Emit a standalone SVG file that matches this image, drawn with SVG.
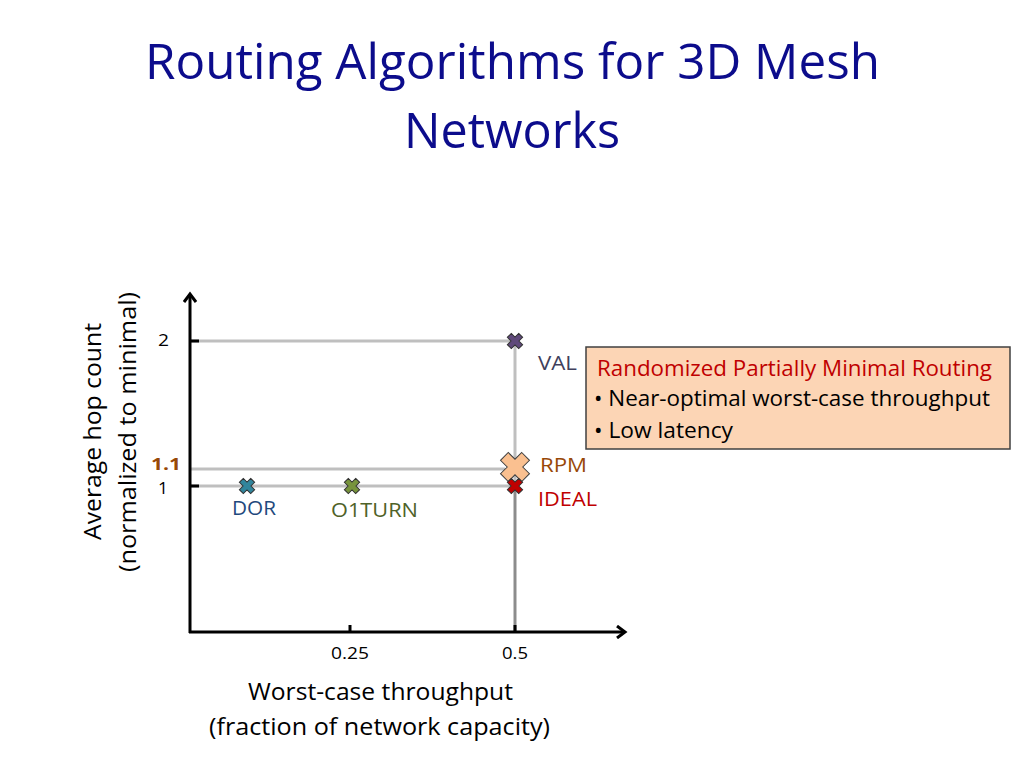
<svg xmlns="http://www.w3.org/2000/svg" width="1024" height="768" viewBox="0 0 1024 768">
<defs>
<style>
text{font-family:"Open Sans","Liberation Sans",sans-serif;font-variant-ligatures:none}
.title{font-size:49px;fill:#0C0C8C}
.lab{font-size:23px;fill:#000}
.tick{font-size:17px;fill:#000}
.grid{stroke:#BFBFBF;stroke-width:3;fill:none}
.axis{stroke:#000;stroke-width:3;fill:none}
.box{font-size:21px}
.nl{font-size:20px}
</style>
<path id="xs" d="M-2.8,-8 L2.8,-8 L2.8,-2.8 L8,-2.8 L8,2.8 L2.8,2.8 L2.8,8 L-2.8,8 L-2.8,2.8 L-8,2.8 L-8,-2.8 L-2.8,-2.8 Z" transform="rotate(45)"/>
<path id="xl" d="M-5.5,-15 L5.5,-15 L5.5,-5.5 L15,-5.5 L15,5.5 L5.5,5.5 L5.5,15 L-5.5,15 L-5.5,5.5 L-15,5.5 L-15,-5.5 L-5.5,-5.5 Z" transform="rotate(45)"/>
<marker id="arr" markerWidth="14" markerHeight="14" refX="10" refY="7" orient="auto" markerUnits="userSpaceOnUse">
<path d="M2,1 L10,7 L2,13" fill="none" stroke="#000" stroke-width="3"/>
</marker>
</defs>
<rect width="1024" height="768" fill="#fff"/>
<g id="title">
<text class="title" x="145" y="79" textLength="735" lengthAdjust="spacingAndGlyphs">Routing Algorithms for 3D Mesh</text>
<text class="title" x="404" y="148" textLength="216" lengthAdjust="spacingAndGlyphs">Networks</text>
</g>
<g id="connectors">
<line class="grid" x1="190" y1="341" x2="515" y2="341"/>
<line class="grid" x1="190" y1="469" x2="505" y2="469"/>
<line class="grid" x1="190" y1="486" x2="515" y2="486"/>
<line class="grid" x1="515" y1="341" x2="515" y2="486"/>
<line x1="515" y1="486" x2="515" y2="632" stroke="#8C8C8C" stroke-width="3"/>
<line class="axis" x1="190" y1="633" x2="190" y2="294" marker-end="url(#arr)"/>
<line class="axis" x1="189" y1="632" x2="625" y2="632" marker-end="url(#arr)"/>
<line class="axis" x1="190" y1="341" x2="199" y2="341"/>
<line class="axis" x1="190" y1="486" x2="199" y2="486"/>
<line class="axis" x1="350" y1="632" x2="350" y2="625"/>
<line class="axis" x1="515" y1="632" x2="515" y2="625"/>
</g>
<g id="axis-labels">
<text class="tick" x="158" y="346" textLength="11" lengthAdjust="spacingAndGlyphs">2</text>
<text class="tick" x="151" y="470" textLength="30" lengthAdjust="spacingAndGlyphs" style="font-weight:bold;fill:#984807;font-size:16px">1.1</text>
<text class="tick" x="158" y="494" textLength="10" lengthAdjust="spacingAndGlyphs" style="font-size:16px">1</text>
<text class="tick" x="331" y="659" textLength="38" lengthAdjust="spacingAndGlyphs">0.25</text>
<text class="tick" x="502" y="659" textLength="26" lengthAdjust="spacingAndGlyphs">0.5</text>
<text class="lab" x="248" y="700" textLength="265" lengthAdjust="spacingAndGlyphs">Worst-case throughput</text>
<text class="lab" x="209" y="735" textLength="341" lengthAdjust="spacingAndGlyphs">(fraction of network capacity)</text>
<text class="lab" transform="translate(101,540) rotate(-90)" textLength="217" lengthAdjust="spacingAndGlyphs">Average hop count</text>
<text class="lab" transform="translate(136,572) rotate(-90)" textLength="280" lengthAdjust="spacingAndGlyphs">(normalized to minimal)</text>
</g>
<g id="node-val">
<use href="#xs" x="515" y="341" fill="#5F497A" stroke="#333" stroke-width="1"/>
<text class="nl" x="538" y="370" textLength="39" lengthAdjust="spacingAndGlyphs" fill="#403F5C">VAL</text>
</g>
<g id="node-rpm">
<use href="#xl" x="515" y="467" fill="#FAC090" stroke="#404040" stroke-width="1"/>
<text class="nl" x="540" y="472" textLength="47" lengthAdjust="spacingAndGlyphs" fill="#984807">RPM</text>
</g>
<g id="node-ideal">
<use href="#xs" x="515" y="486" fill="#C00000" stroke="#333" stroke-width="1"/>
<text class="nl" x="538" y="506" textLength="59" lengthAdjust="spacingAndGlyphs" fill="#C00000">IDEAL</text>
</g>
<g id="node-dor">
<use href="#xs" x="247" y="486" fill="#31859C" stroke="#333" stroke-width="1"/>
<text class="nl" x="232" y="515" textLength="44" lengthAdjust="spacingAndGlyphs" fill="#1F497D">DOR</text>
</g>
<g id="node-o1turn">
<use href="#xs" x="352" y="486" fill="#77933C" stroke="#333" stroke-width="1"/>
<text class="nl" x="331" y="517" textLength="87" lengthAdjust="spacingAndGlyphs" fill="#4F6228">O1TURN</text>
</g>
<g id="node-callout">
<rect x="586" y="347" width="424" height="102" fill="#FCD5B5" stroke="#404040" stroke-width="1.5"/>
<text class="box" x="597" y="376" textLength="395" lengthAdjust="spacingAndGlyphs" fill="#C00000">Randomized Partially Minimal Routing</text>
<text class="box" x="594" y="406" textLength="396" lengthAdjust="spacingAndGlyphs" fill="#000">• Near-optimal worst-case throughput</text>
<text class="box" x="594" y="438" textLength="139" lengthAdjust="spacingAndGlyphs" fill="#000">• Low latency</text>
</g>
</svg>
